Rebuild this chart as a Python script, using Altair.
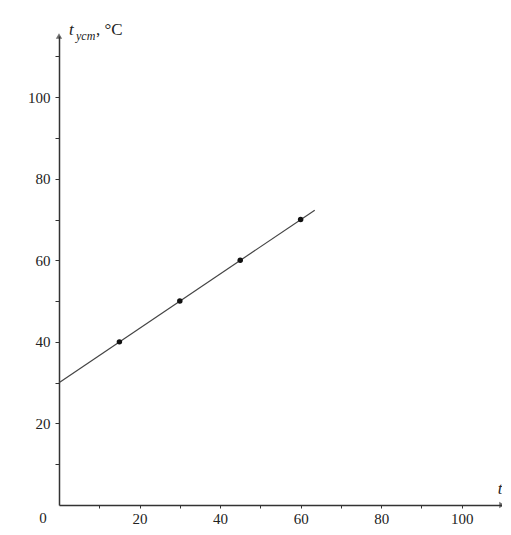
import altair as alt
import pandas as pd

# data
tau_pts = [15, 30, 45, 60]
t_pts = [40, 50, 60, 70]
line_tau = [0, 63.5]
line_t = [30, 72.3]
x_labels = [20, 40, 60, 80, 100]
y_labels = [20, 40, 60, 80, 100]
x_max = 110
y_max = 115

pts = pd.DataFrame({"x": tau_pts, "y": t_pts})
ln = pd.DataFrame({"x": line_tau, "y": line_t})

FONT = "Liberation Serif"
xs = alt.Scale(domain=[0, x_max], nice=False, zero=False)
ys = alt.Scale(domain=[0, y_max], nice=False, zero=False)

xaxis = alt.Axis(values=list(range(10, x_max, 10)), labelExpr="datum.value % 20 == 0 ? datum.label : ''",
                 grid=False, title=None, domainColor="#333", domainWidth=1.5, tickColor="#333",
                 tickSize=3, labelFont=FONT, labelFontSize=15, labelColor="#222", labelPadding=3)
yaxis = alt.Axis(values=list(range(10, y_max, 10)), labelExpr="datum.value % 20 == 0 ? datum.label : ''",
                 grid=False, title=None, domainColor="#333", domainWidth=1.5, tickColor="#333",
                 tickSize=4, labelFont=FONT, labelFontSize=15, labelColor="#222", labelPadding=5)

base_line = alt.Chart(ln).mark_line(color="#444", strokeWidth=1.2).encode(
    x=alt.X("x:Q", scale=xs, axis=xaxis),
    y=alt.Y("y:Q", scale=ys, axis=yaxis),
)
points = alt.Chart(pts).mark_circle(color="#111", size=30, opacity=1).encode(
    x=alt.X("x:Q", scale=xs), y=alt.Y("y:Q", scale=ys))

arrow_x = alt.Chart(pd.DataFrame({"x": [x_max], "y": [0]})).mark_point(
    shape="triangle-right", filled=True, color="#333", size=40).encode(
    x=alt.X("x:Q", scale=xs), y=alt.Y("y:Q", scale=ys))
arrow_y = alt.Chart(pd.DataFrame({"x": [0], "y": [y_max]})).mark_point(
    shape="triangle-up", filled=True, color="#333", size=40).encode(
    x=alt.X("x:Q", scale=xs), y=alt.Y("y:Q", scale=ys))

anchor = pd.DataFrame({"x": [0], "y": [0]})
zero_lbl = alt.Chart(anchor).mark_text(text="0", font=FONT, fontSize=15, color="#222",
                                       dx=-16, dy=13).encode(
    x=alt.X("x:Q", scale=xs), y=alt.Y("y:Q", scale=ys))

top = pd.DataFrame({"x": [0], "y": [y_max]})
t_main = alt.Chart(top).mark_text(text="t", font=FONT, fontSize=17, fontStyle="italic",
                                  color="#222", align="left", dx=10, dy=-6).encode(
    x=alt.X("x:Q", scale=xs), y=alt.Y("y:Q", scale=ys))
t_sub = alt.Chart(top).mark_text(text="уст", font=FONT, fontSize=12, fontStyle="italic",
                                 color="#222", align="left", dx=17, dy=0).encode(
    x=alt.X("x:Q", scale=xs), y=alt.Y("y:Q", scale=ys))
t_unit = alt.Chart(top).mark_text(text=", °C", font=FONT, fontSize=17,
                                  color="#222", align="left", dx=37, dy=-6).encode(
    x=alt.X("x:Q", scale=xs), y=alt.Y("y:Q", scale=ys))

right = pd.DataFrame({"x": [x_max], "y": [0]})
x_title = alt.Chart(right).mark_text(text="t", font=FONT, fontSize=17, fontStyle="italic",
                                     color="#222", align="center", dx=-2, dy=-16).encode(
    x=alt.X("x:Q", scale=xs), y=alt.Y("y:Q", scale=ys))

chart = alt.layer(base_line, points, arrow_x, arrow_y, zero_lbl, t_main, t_sub, t_unit, x_title).properties(
    width=443, height=469,
    background="white",
    autosize=alt.AutoSizeParams(type="none"),
    padding={"left": 51, "top": 28, "right": 0, "bottom": 22},
).configure_view(stroke=None)

chart.save("out.html", embed_options={"renderer": "svg", "actions": False})
